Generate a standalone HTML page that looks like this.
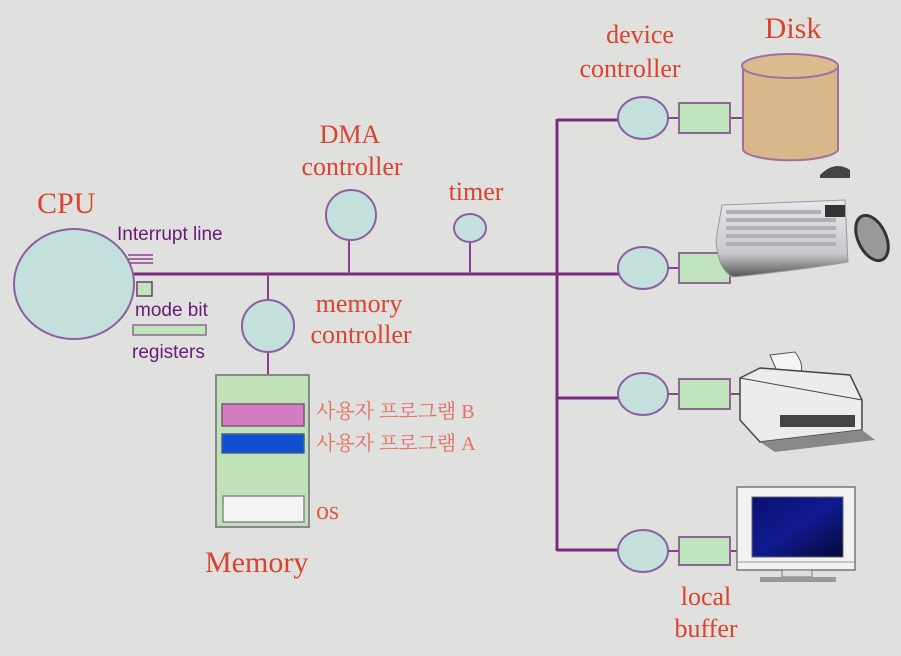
<!DOCTYPE html>
<html><head><meta charset="utf-8"><style>
html,body{margin:0;padding:0;background:#e0e0de;}
svg{display:block}
.s{font-family:"Liberation Serif",serif;fill:#d9432f}
.p{font-family:"Liberation Sans",sans-serif;fill:#6a1a78}
.k{font-family:"Liberation Serif","Noto Serif CJK SC",serif;fill:#e2705e}
</style></head><body>
<svg width="901" height="656" viewBox="0 0 901 656" xmlns="http://www.w3.org/2000/svg">
<defs>
<linearGradient id="scr" x1="0" y1="0" x2="1" y2="1"><stop offset="0" stop-color="#0a1070"/><stop offset="0.5" stop-color="#101a90"/><stop offset="1" stop-color="#050838"/></linearGradient>
<linearGradient id="kb" x1="0" y1="0" x2="0" y2="1"><stop offset="0" stop-color="#e8e8ec"/><stop offset="0.7" stop-color="#c8c8cc"/><stop offset="1" stop-color="#555"/></linearGradient>
</defs>
<rect width="901" height="656" fill="#e0e0de"/>
<g stroke="#7a2a80" stroke-width="3" fill="none">
<line x1="132" y1="274" x2="620" y2="274"/>
<line x1="557" y1="119" x2="557" y2="551"/>
<line x1="557" y1="120" x2="620" y2="120"/>
<line x1="557" y1="398" x2="620" y2="398"/>
<line x1="557" y1="550" x2="620" y2="550"/>
</g>
<g stroke="#8a4090" stroke-width="2" fill="none">
<line x1="349" y1="240" x2="349" y2="274"/>
<line x1="470" y1="242" x2="470" y2="274"/>
<line x1="268" y1="274" x2="268" y2="300"/>
<line x1="268" y1="352" x2="268" y2="376"/>
<line x1="668" y1="118" x2="680" y2="118"/><line x1="730" y1="118" x2="744" y2="118"/>
<line x1="668" y1="268" x2="680" y2="268"/>
<line x1="668" y1="394" x2="680" y2="394"/><line x1="730" y1="394" x2="742" y2="394"/>
<line x1="668" y1="551" x2="680" y2="551"/><line x1="730" y1="551" x2="740" y2="551"/>
<line x1="128" y1="255" x2="153" y2="255" stroke-width="1.5"/>
<line x1="128" y1="259" x2="153" y2="259" stroke-width="1.5"/>
<line x1="128" y1="263" x2="153" y2="263" stroke-width="1.5"/>
</g>
<ellipse cx="74" cy="284" rx="60" ry="55" fill="#c4e0dc" stroke="#8a60a0" stroke-width="2"/>
<rect x="137" y="282" width="15" height="14" fill="#c0e4bc" stroke="#6a3a70" stroke-width="1.5"/>
<rect x="133" y="325" width="73" height="10" fill="#c0e4bc" stroke="#8a6a90" stroke-width="1.5"/>
<text x="37" y="213" class="s" font-size="30">CPU</text>
<text x="117" y="240" class="p" font-size="19">Interrupt line</text>
<text x="135" y="316" class="p" font-size="19">mode bit</text>
<text x="132" y="358" class="p" font-size="19">registers</text>
<circle cx="351" cy="215" r="25" fill="#c4e0dc" stroke="#8a60a0" stroke-width="2"/>
<ellipse cx="470" cy="228" rx="16" ry="14" fill="#c4e0dc" stroke="#8a60a0" stroke-width="2"/>
<circle cx="268" cy="326" r="26" fill="#c4e0dc" stroke="#8a60a0" stroke-width="2"/>
<text x="350" y="143" class="s" font-size="26" text-anchor="middle">DMA</text>
<text x="352" y="175" class="s" font-size="26" text-anchor="middle">controller</text>
<text x="476" y="200" class="s" font-size="26" text-anchor="middle">timer</text>
<text x="359" y="312" class="s" font-size="26" text-anchor="middle">memory</text>
<text x="361" y="343" class="s" font-size="26" text-anchor="middle">controller</text>
<rect x="216" y="375" width="93" height="152" fill="#c0e2b8" stroke="#888" stroke-width="2"/>
<rect x="222" y="404" width="82" height="22" fill="#d47cc0" stroke="#7a5a7a" stroke-width="1.5"/>
<rect x="222" y="434" width="82" height="19" fill="#1050d0" stroke="#506090" stroke-width="1.5"/>
<rect x="223" y="496" width="81" height="26" fill="#f4f4f4" stroke="#888" stroke-width="1.5"/>
<text x="316" y="418" class="k" font-size="20">사용자 프로그램 B</text>
<text x="316" y="450" class="k" font-size="20">사용자 프로그램 A</text>
<text x="316" y="519" class="s" font-size="26" style="fill:#e05a45">os</text>
<text x="205" y="572" class="s" font-size="30">Memory</text>
<g fill="#c4e0dc" stroke="#8a60a0" stroke-width="2">
<ellipse cx="643" cy="118" rx="25" ry="21"/>
<ellipse cx="643" cy="268" rx="25" ry="21"/>
<ellipse cx="643" cy="394" rx="25" ry="21"/>
<ellipse cx="643" cy="551" rx="25" ry="21"/>
</g>
<g fill="#c0e4bc" stroke="#8a6a90" stroke-width="2">
<rect x="679" y="103" width="51" height="30"/>
<rect x="679" y="253" width="51" height="30"/>
<rect x="679" y="379" width="51" height="30"/>
<rect x="679" y="537" width="51" height="28"/>
</g>
<text x="640" y="43" class="s" font-size="26" text-anchor="middle">device</text>
<text x="630" y="77" class="s" font-size="26" text-anchor="middle">controller</text>
<text x="793" y="38" class="s" font-size="30" text-anchor="middle">Disk</text>
<text x="706" y="605" class="s" font-size="26" text-anchor="middle">local</text>
<text x="706" y="637" class="s" font-size="26" text-anchor="middle">buffer</text>
<path d="M743 66 L743 150 A48 12 0 0 0 838 150 L838 66" fill="#d8b88a" stroke="#a070a0" stroke-width="2"/>
<ellipse cx="790" cy="66" rx="48" ry="12" fill="#dcbc8e" stroke="#a070a0" stroke-width="2"/>
<path d="M722 205 L845 200 L848 262 Q800 270 733 277 Q718 270 716 240 Z" fill="url(#kb)" stroke="#999"/>
<g fill="#b0b0b6"><rect x="726" y="210" width="95" height="4"/><rect x="726" y="218" width="110" height="4"/><rect x="726" y="226" width="110" height="4"/><rect x="726" y="234" width="110" height="4"/><rect x="726" y="242" width="110" height="4"/></g>
<rect x="825" y="205" width="20" height="12" fill="#333"/>
<path d="M820 175 Q835 160 850 170 L850 178 L820 178 Z" fill="#444"/>
<ellipse cx="872" cy="238" rx="14" ry="24" transform="rotate(-25 872 238)" fill="#999" stroke="#333" stroke-width="3"/>
<path d="M770 355 L795 352 Q805 365 800 375 L780 378 Z" fill="#f4f4f4" stroke="#555"/>
<path d="M740 378 L760 368 L850 375 L862 400 L862 430 L760 442 L740 420 Z" fill="#ececec" stroke="#444" stroke-width="1.5"/>
<path d="M740 378 L862 400" stroke="#444" fill="none"/>
<rect x="780" y="415" width="75" height="12" fill="#444"/>
<path d="M760 442 L862 430 L875 440 L775 452 Z" fill="#888"/>
<rect x="737" y="487" width="118" height="83" fill="#f2f2f2" stroke="#777" stroke-width="1.5"/>
<rect x="752" y="497" width="91" height="60" fill="url(#scr)" stroke="#666"/>
<line x1="737" y1="562" x2="855" y2="562" stroke="#999"/>
<rect x="782" y="570" width="30" height="7" fill="#ddd" stroke="#777"/>
<rect x="760" y="577" width="76" height="5" fill="#999"/>
</svg>
</body></html>
